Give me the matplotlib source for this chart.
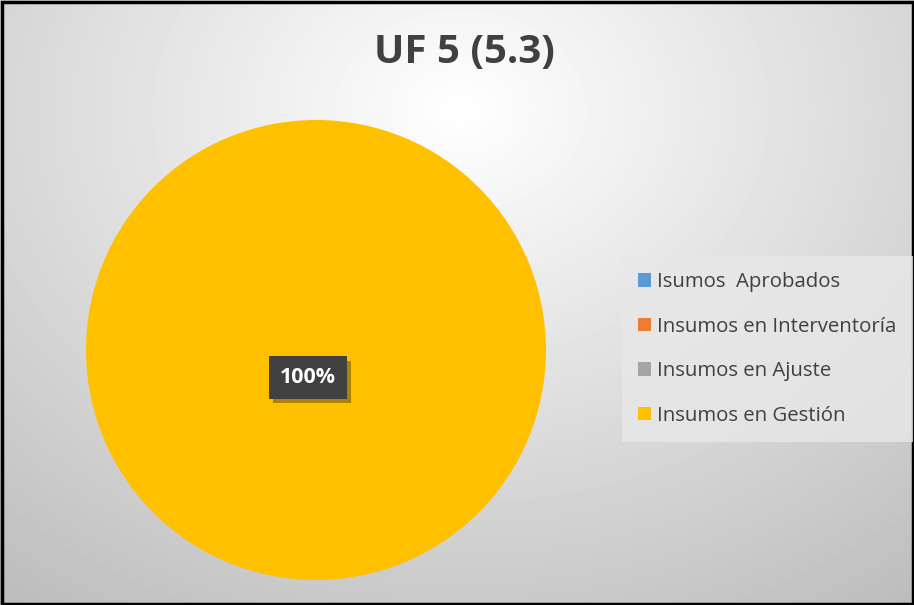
import numpy as np
import matplotlib.pyplot as plt
from matplotlib.patches import Rectangle
import matplotlib.patheffects as pe

titulo = 'UF 5 (5.3)'
categorias = ['Isumos  Aprobados', 'Insumos en Interventoría',
              'Insumos en Ajuste', 'Insumos en Gestión']
valores = [0, 0, 0, 100]
colores = ['#5B9BD5', '#ED7D31', '#A5A5A5', '#FFC000']

plt.rcParams['font.family'] = ['Open Sans', 'DejaVu Sans']

fig = plt.figure(figsize=(9.14, 6.05), dpi=100)

# fondo con degradado radial
bg = fig.add_axes([0, 0, 1, 1])
yy, xx = np.mgrid[0:605, 0:914]
d = np.sqrt(((xx - 460) / 700.0) ** 2 + ((yy - 110) / 560.0) ** 2)
g = np.clip(1.0 - 0.24 * d, 0, 1)
bg.imshow(g, cmap='gray', vmin=0, vmax=1, aspect='auto', extent=[0, 914, 605, 0],
          interpolation='bilinear')
bg.set_xlim(0, 914)
bg.set_ylim(605, 0)
bg.axis('off')
bg.add_patch(Rectangle((1.5, 1.5), 911, 602, fill=False, edgecolor='black', linewidth=2.5))

# torta
ax = fig.add_axes([86 / 914, 25 / 605, 460 / 914, 460 / 605])
wedges, _ = ax.pie(valores, colors=colores, startangle=90, counterclock=False,
                   wedgeprops=dict(linewidth=0))
ax.set_xlim(-1, 1)
ax.set_ylim(-1, 1)
ax.set_aspect('equal')

total = sum(valores)
for v in valores:
    if v > 0:
        ax.text(-0.035, -0.12, f'{v / total:.0%}', ha='center', va='center',
                fontsize=15.5, fontweight='bold', color='white',
                bbox=dict(boxstyle='square,pad=0.5', facecolor='#404040', edgecolor='none',
                          path_effects=[pe.withSimplePatchShadow(offset=(3, -3), alpha=0.35)]))

fig.text(0.508, 0.913, titulo, ha='center', va='center', fontsize=29,
         fontweight='bold', color='#404040')

# leyenda
leg = fig.legend(wedges, categorias, loc='center left', bbox_to_anchor=(622 / 914, 1 - 349 / 605),
                 frameon=True, fontsize=14.7, handlelength=0.62, handleheight=0.62,
                 handletextpad=0.3, labelspacing=1.2, borderpad=0.8, borderaxespad=0)
leg.get_frame().set_facecolor('#e8e8e8')
leg.get_frame().set_edgecolor('none')
leg.get_frame().set_alpha(0.8)
leg.get_frame().set_boxstyle('square', pad=0)
for t in leg.get_texts():
    t.set_color('#404040')

fig.savefig('out.png', dpi=100)
